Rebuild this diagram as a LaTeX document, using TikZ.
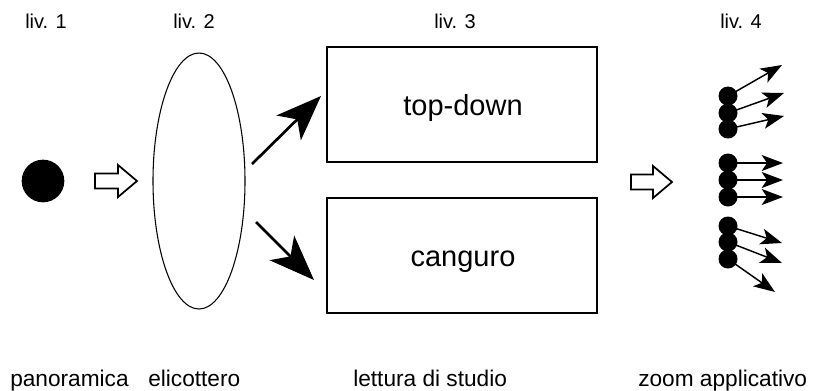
\documentclass[tikz,border=0pt]{standalone}
\usepackage{fontspec}
\setmainfont{Liberation Sans}
\usetikzlibrary{arrows.meta,shapes.geometric}
\tikzset{
  toplabel/.style={font=\fontsize{15}{18}\selectfont, anchor=base west, inner sep=0pt},
  botlabel/.style={font=\fontsize{17}{20}\selectfont, anchor=base west, inner sep=0pt},
  boxtext/.style={font=\fontsize{21.75}{26}\selectfont, anchor=base, inner sep=0pt},
  levelbox/.style={draw, line width=1pt, minimum width=202.5pt, minimum height=86.25pt, inner sep=0pt},
  heli/.style={draw, ellipse, line width=0.8pt, minimum width=69pt, minimum height=192pt, inner sep=0pt},
  bigdot/.style={circle, fill=black, minimum size=32pt, inner sep=0pt},
  smalldot/.style={circle, fill=black, minimum size=14.25pt, inner sep=0pt},
  hollowarrow/.style={draw, line width=1.3pt, fill=white, line join=miter},
  bigarrow/.style={line width=2pt, -{Stealth[length=34pt, width=26pt, inset=9pt]}},
  smallarrow/.style={line width=1.1pt, -{Stealth[length=16pt, width=12pt, inset=4pt]}}
}
\begin{document}
\begin{tikzpicture}[x=0.75pt, y=-0.75pt]
\useasboundingbox (0,0) rectangle (816,390);

% level labels
\node[toplabel] (l1) at (25,28) {liv. 1};
\node[toplabel] (l2) at (173,28) {liv. 2};
\node[toplabel] (l3) at (434,28) {liv. 3};
\node[toplabel] (l4) at (720,28) {liv. 4};

% bottom labels
\node[botlabel] (b1) at (10,386) {panoramica};
\node[botlabel] (b2) at (148,386) {elicottero};
\node[botlabel] (b3) at (353,386) {lettura di studio};
\node[botlabel] (b4) at (638,386) {zoom applicativo};

% level 1
\node[bigdot] (dot) at (43,181) {};

% hollow arrow 1
\coordinate (ha1) at (95,181);
\draw[hollowarrow] (ha1) ++(0,-7.5) -- ++(23,0) -- ++(0,-8.5) -- ++(19,16) -- ++(-19,16) -- ++(0,-8.5) -- ++(-23,0) -- cycle;

% level 2
\node[heli] (ell) at (199,181) {};

% level 3
\node[levelbox] (topbox) at (462,104.5) {};
\node[boxtext] (toptext) at (463,115) {top-down};
\node[levelbox] (canbox) at (462,255.5) {};
\node[boxtext] (cantext) at (463,266) {canguro};

\coordinate (u0) at (252,164);
\coordinate (u1) at (321,96);
\coordinate (d0) at (256,222);
\coordinate (d1) at (314,280);
\draw[bigarrow] (u0) -- (u1);
\draw[bigarrow] (d0) -- (d1);

% hollow arrow 2
\coordinate (ha2) at (631,182);
\draw[hollowarrow] (ha2) ++(0,-7.5) -- ++(22,0) -- ++(0,-8.5) -- ++(19,16) -- ++(-19,16) -- ++(0,-8.5) -- ++(-22,0) -- cycle;

% level 4 targets
\coordinate (t1) at (782,65);
\coordinate (t2) at (784,93);
\coordinate (t3) at (784,116);
\coordinate (t4) at (783,163);
\coordinate (t5) at (783,180);
\coordinate (t6) at (783,197);
\coordinate (t7) at (782,243);
\coordinate (t8) at (782,263);
\coordinate (t9) at (775,292);

% dot positions
\coordinate (p1) at (728,96);
\coordinate (p2) at (728,113);
\coordinate (p3) at (728,129);
\coordinate (p4) at (728,163);
\coordinate (p5) at (728,180);
\coordinate (p6) at (728,197);
\coordinate (p7) at (728,226);
\coordinate (p8) at (728,242);
\coordinate (p9) at (728,259);

\foreach \i in {1,...,9} {
  \draw[smallarrow] (p\i) -- (t\i);
}
\foreach \i in {1,...,9} {
  \node[smalldot] (s\i) at (p\i) {};
}
\end{tikzpicture}
\end{document}
